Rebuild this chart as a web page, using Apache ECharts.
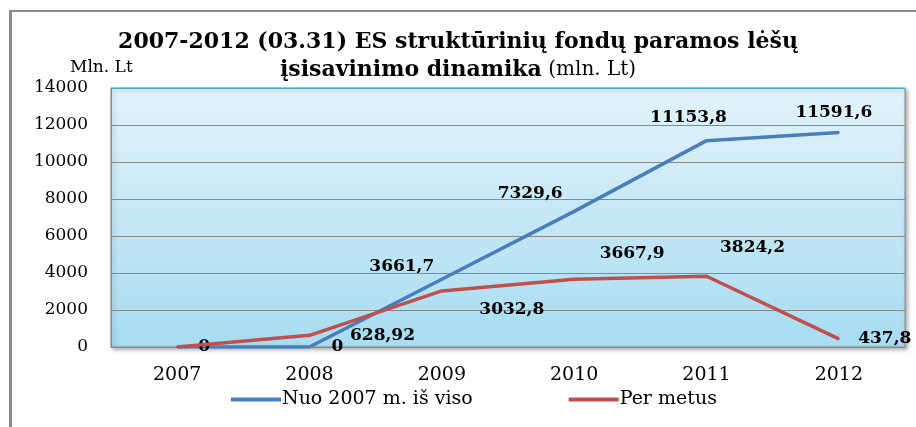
<!DOCTYPE html>
<html><head><meta charset="utf-8">
<script src="https://cdn.jsdelivr.net/npm/echarts@6/dist/echarts.min.js"></script>
<style>html,body{margin:0;padding:0;background:#fff}#c{width:916px;height:427px}</style>
</head><body><div id="c"></div>
<script>
const categories = ['2007','2008','2009','2010','2011','2012'];
const totalValues = [0, 0, 3661.7, 7329.6, 11153.8, 11591.6];
const yearValues = [0, 628.92, 3032.8, 3667.9, 3824.2, 437.8];
const totalLabels = ['0','0','3661,7','7329,6','11153,8','11591,6'];
const yearLabels = ['','628,92','3032,8','3667,9','3824,2','437,8'];
const yTicks = [0, 2000, 4000, 6000, 8000, 10000, 12000, 14000];
const seriesNames = ['Nuo 2007 m. iš viso', 'Per metus'];

// label placement (style, not data)
const totalOffsets = [[27,0],[28,0],[-40,-13],[-44,-18],[-18,-23],[-5,-20]];
const yearOffsets = [[0,0],[73,0],[70,19],[58,-26],[46,-29],[46,0]];

const SERIF = '"DejaVu Serif", "Liberation Serif", serif';
function mk(vals, labels, offs){
  return vals.map((v,i)=>({value:v, label:{show: labels[i] !== '', formatter: labels[i], offset: offs[i]}}));
}
const chart = echarts.init(document.getElementById('c'));
chart.setOption({
  animation:false,
  backgroundColor:'#fff',
  title:{
    text:'2007-2012 (03.31) ES struktūrinių fondų paramos lėšų\n{b|įsisavinimo dinamika}{n| (mln. Lt)}',
    left:'center', top:23,
    textStyle:{fontFamily:SERIF, fontWeight:'bold', fontSize:22, color:'#000', lineHeight:28,
      rich:{b:{fontFamily:SERIF, fontWeight:'bold', fontSize:22, color:'#000', lineHeight:28},
            n:{fontFamily:SERIF, fontWeight:'normal', fontSize:20, color:'#000', lineHeight:28}}}
  },
  graphic:[
    {type:'line', shape:{x1:10.5,y1:10,x2:10.5,y2:427}, style:{stroke:'#8c8c8c', lineWidth:3}},
    {type:'line', shape:{x1:9,y1:11,x2:916,y2:11}, style:{stroke:'#8c8c8c', lineWidth:2}},
    {type:'text', left:70, top:59, style:{text:'Mln. Lt', font:'17px '+SERIF, fill:'#000'}}
  ],
  legend:{
    data:seriesNames, left:226, top:385, itemWidth:50, itemHeight:4, itemGap:96, icon:'rect',
    textStyle:{fontFamily:SERIF, fontSize:19, color:'#000', padding:[0,0,0,-4]}
  },
  grid:{left:111, right:11, top:88, bottom:80, show:true,
    backgroundColor:{type:'linear', x:0, y:0, x2:0, y2:1, colorStops:[{offset:0,color:'#e2f3fa'},{offset:1,color:'#a7dcf1'}]},
    borderColor:'#8a8a8a', borderWidth:1, shadowColor:'rgba(0,0,0,0.35)', shadowBlur:4, shadowOffsetX:2, shadowOffsetY:2},
  xAxis:[{type:'category', data:categories, boundaryGap:true,
    axisLine:{show:true, lineStyle:{color:'#8a8a8a'}}, axisTick:{show:false},
    axisLabel:{fontFamily:SERIF, fontSize:19, color:'#000', margin:19}},
    {type:'category', data:categories, position:'top', axisLine:{show:true, lineStyle:{color:'#4bacc6', width:1}}, axisTick:{show:false}, axisLabel:{show:false}}],
  yAxis:{type:'value', min:yTicks[0], max:yTicks[yTicks.length-1], interval:2000,
    axisLine:{show:true, lineStyle:{color:'#8a8a8a'}}, axisTick:{show:false},
    splitLine:{lineStyle:{color:'#8a8a8a', width:1}},
    axisLabel:{fontFamily:SERIF, fontSize:17, color:'#000', margin:23, formatter:(v)=>String(v)}},
  series:[
    {name:seriesNames[0], type:'line', data:mk(totalValues,totalLabels,totalOffsets), symbol:'circle', symbolSize:2, showSymbol:true,
     lineStyle:{color:'#4a7ebb', width:3.5}, itemStyle:{color:'#4a7ebb'}, z:2,
     label:{show:true, position:'inside', fontFamily:SERIF, fontWeight:'bold', fontSize:17, color:'#000'}},
    {name:seriesNames[1], type:'line', data:mk(yearValues,yearLabels,yearOffsets), symbol:'circle', symbolSize:2, showSymbol:true,
     lineStyle:{color:'#c0504d', width:3.5}, itemStyle:{color:'#c0504d'}, z:3,
     label:{show:true, position:'inside', fontFamily:SERIF, fontWeight:'bold', fontSize:17, color:'#000'}}
  ]
});
</script></body></html>
